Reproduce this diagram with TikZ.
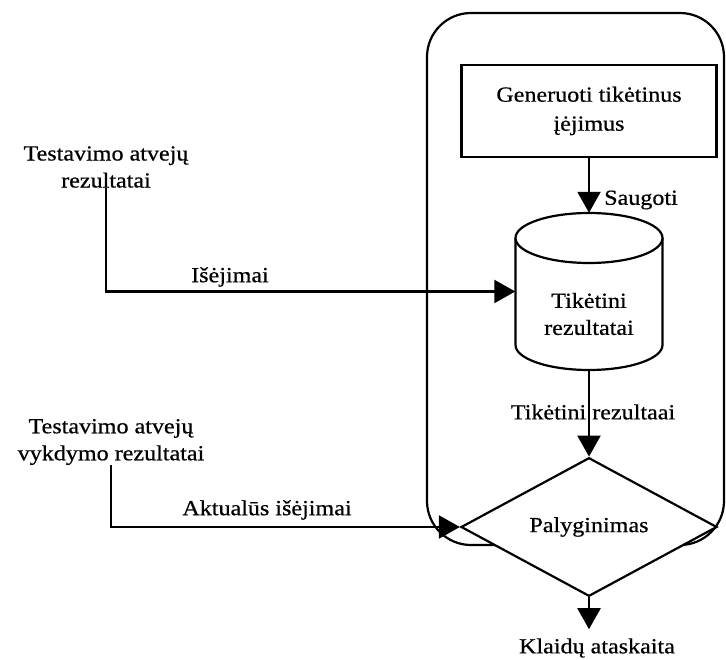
\documentclass[tikz,border=0pt]{standalone}
\usepackage{fontspec}
\setmainfont{Liberation Serif}[FakeStretch=1.12, FakeBold=0.6]
\usetikzlibrary{arrows.meta,shapes.geometric}
\begin{document}
\begin{tikzpicture}[x=1pt,y=-1pt,
  line/.style={line width=2.2pt},
  flow/.style={line, -{Triangle[length=21pt,width=23pt]}},
  lbl/.style={font=\fontsize{21.5}{27}\selectfont, align=center, inner sep=0pt},
  procbox/.style={draw, line, minimum width=255pt, minimum height=92pt},
  decision/.style={diamond, draw, line, fill=white, minimum width=256pt,
                   minimum height=133pt, inner sep=0pt},
]
\useasboundingbox (0,0) rectangle (726,660);

% boundary of the checking process
\draw[line, rounded corners=44pt] (427,13) rectangle (724,545);

% generator box
\node[procbox, lbl, font=\fontsize{21.5}{29}\selectfont] (gen) at (589,111)
  {Generuoti tikėtinus\\įėjimus};

% store of expected results (cylinder drawn by hand around node db)
\node[minimum width=147pt, minimum height=157pt, inner sep=0pt] (db) at (589,291.5) {};
\draw[line] (515.5,238) -- (515.5,345)
  .. controls (515.5,358.8) and (548.4,370) .. (589,370)
  .. controls (629.6,370) and (662.5,358.8) .. (662.5,345) -- (662.5,238);
\draw[line, fill=white] (589,238) ellipse [x radius=73.5pt, y radius=25pt];
\node[lbl] (dbtext) at (589,314) {Tikėtini\\rezultatai};

% comparison
\node[decision, lbl] (cmp) at (589,527) {Palyginimas};

% inputs from the left
\node[lbl] (tin1) at (106,167) {Testavimo atvejų\\rezultatai};
\node[lbl] (tin2) at (111,442) {Testavimo atvejų\\vykdymo rezultatai};
\node[lbl] (out) at (597,648) {Klaidų ataskaita};

% connectors
\draw[flow] (gen.south) -- (db.north);
\draw[flow] (tin1.south) |- (db.west);
\draw[flow] (db.south) -- (cmp.north);
\draw[flow] (tin2.south) |- (cmp.west);
\draw[flow] (cmp.south) -- ([yshift=9pt]cmp.south |- out.north);

% connector labels
\node[lbl] (lsave) at (641,200) {Saugoti};
\node[lbl] (lout1) at (230,277) {Išėjimai};
\node[lbl] (lexp) at (593,412) {Tikėtini rezultaai};
\node[lbl] (lout2) at (267,510) {Aktualūs išėjimai};
\end{tikzpicture}
\end{document}
